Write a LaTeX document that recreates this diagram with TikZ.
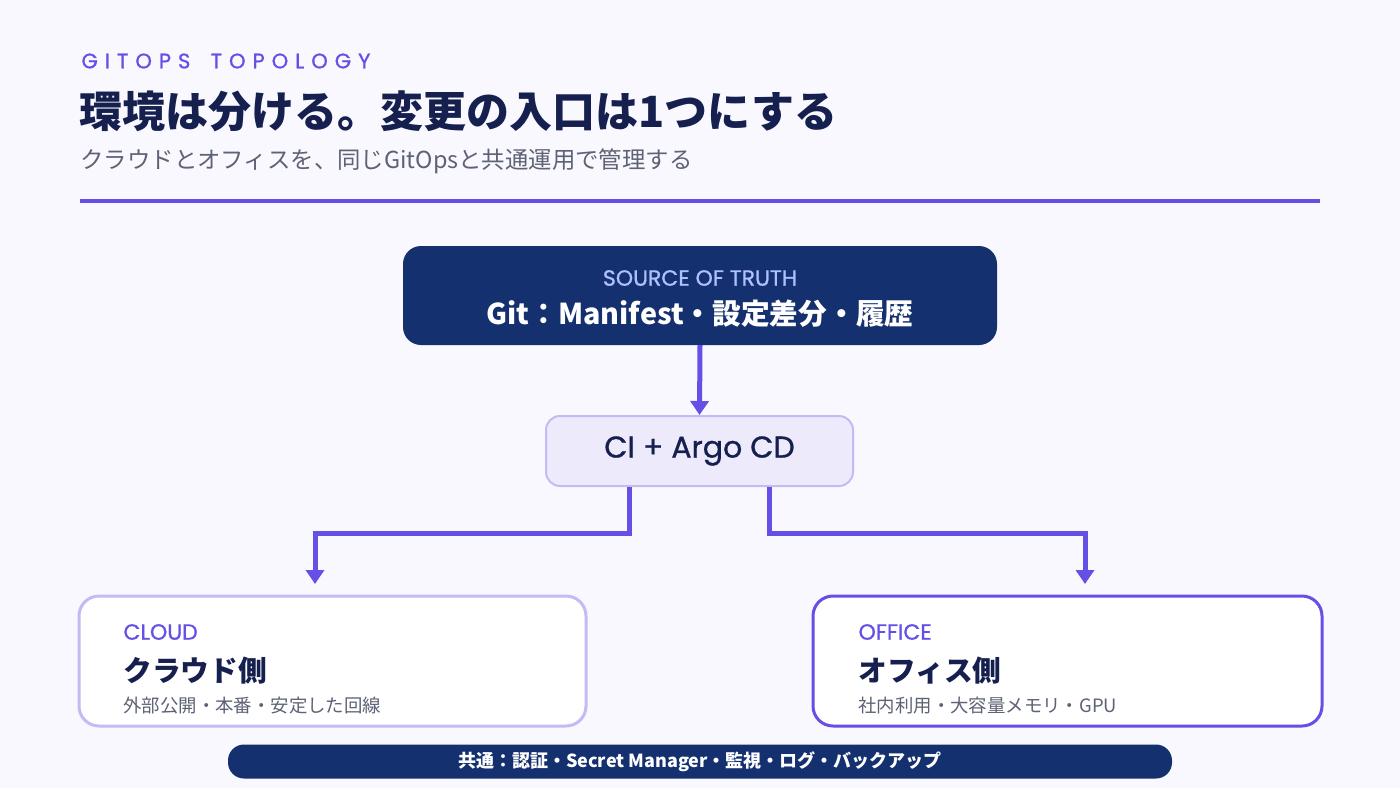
\documentclass[tikz,border=0pt]{standalone}
\usepackage{fontspec}
\setmainfont{Noto Sans CJK JP}
\newfontfamily\lat{Poppins}[FakeBold=1]
\usetikzlibrary{arrows.meta}
\definecolor{bg}{HTML}{F8F8FE}
\definecolor{navy}{HTML}{14306F}
\definecolor{ink}{HTML}{16204F}
\definecolor{purp}{HTML}{6550E6}
\definecolor{lpurp}{HTML}{C3BBF3}
\definecolor{cifill}{HTML}{EDEAFC}
\definecolor{grayt}{HTML}{5E6275}
\definecolor{skyt}{HTML}{AFC0FF}
\begin{document}
\begin{tikzpicture}[x=1pt,y=-1pt,
  fs/.style={font=\fontsize{#1}{#1}\selectfont},
  fsb/.style={font=\fontsize{#1}{#1}\selectfont\bfseries},
  fl/.style={font=\fontsize{#1}{#1}\selectfont\lat},
  conn/.style={draw=purp,line width=5pt,-{Triangle[length=14pt,width=18pt]}},
  card/.style={rounded corners=20pt,fill=white,line width=3pt}]
\useasboundingbox (0,0) rectangle (1400,788);
\fill[bg] (0,0) rectangle (1400,788);
\node[anchor=west,text=purp,fl=21] (kicker) at (78,61) {G\,\,I\,\,T\,\,O\,\,P\,\,S\, \ \ T\,\,O\,\,P\,\,O\,\,L\,\,O\,\,G\,\,Y};
\node[anchor=west,text=ink,fsb=43] (title) at (76,111) {環境は分ける。変更の入口は1つにする};
\node[anchor=west,text=grayt,fs=23.4] (sub) at (77,161) {クラウドとオフィスを、同じGitOpsと共通運用で管理する};
\draw[purp,line width=4pt] (80,201) -- (1320,201);
\node[draw=none,fill=navy,rounded corners=18pt,minimum width=594pt,minimum height=99pt] (src) at (700,295.5) {};
\node[text=skyt,fl=22] (srcl) at (700,278) {SOURCE OF TRUTH};
\node[text=white,fsb=28.7] (srct) at (700,314) {Git：Manifest・設定差分・履歴};
\node[fill=cifill,draw=lpurp,line width=2pt,rounded corners=14pt,minimum width=307pt,minimum height=70pt,text=ink,fl=30] (ci) at (699.5,451) {CI + Argo CD};
\draw[conn] (src.south) -- (ci.north);
\node[card,draw=lpurp,minimum width=507pt,minimum height=130pt] (cloud) at (332.5,661) {};
\node[card,draw=purp,minimum width=509pt,minimum height=130pt] (office) at (1067.5,661) {};
\coordinate (cl) at ([xshift=-70pt]ci.south);
\coordinate (cr) at ([xshift=70pt]ci.south);
\draw[conn] (cl) |- (422,533) -| (315,584);
\draw[conn] (cr) |- (900,533) -| (1085,584);
\node[anchor=west,text=purp,fl=22] at (120,632) {CLOUD};
\node[anchor=west,text=ink,fsb=28.7] at (120,671) {クラウド側};
\node[anchor=west,text=grayt,fs=18.4] at (120,706) {外部公開・本番・安定した回線};
\node[anchor=west,text=purp,fl=22] at (855,632) {OFFICE};
\node[anchor=west,text=ink,fsb=28.7] at (855,671) {オフィス側};
\node[anchor=west,text=grayt,fs=18.4] at (855,706) {社内利用・大容量メモリ・GPU};
\node[fill=navy,rounded corners=16pt,minimum width=944pt,minimum height=34pt,text=white,fsb=18] (common) at (700,761.5) {共通：認証・Secret Manager・監視・ログ・バックアップ};
\end{tikzpicture}
\end{document}
